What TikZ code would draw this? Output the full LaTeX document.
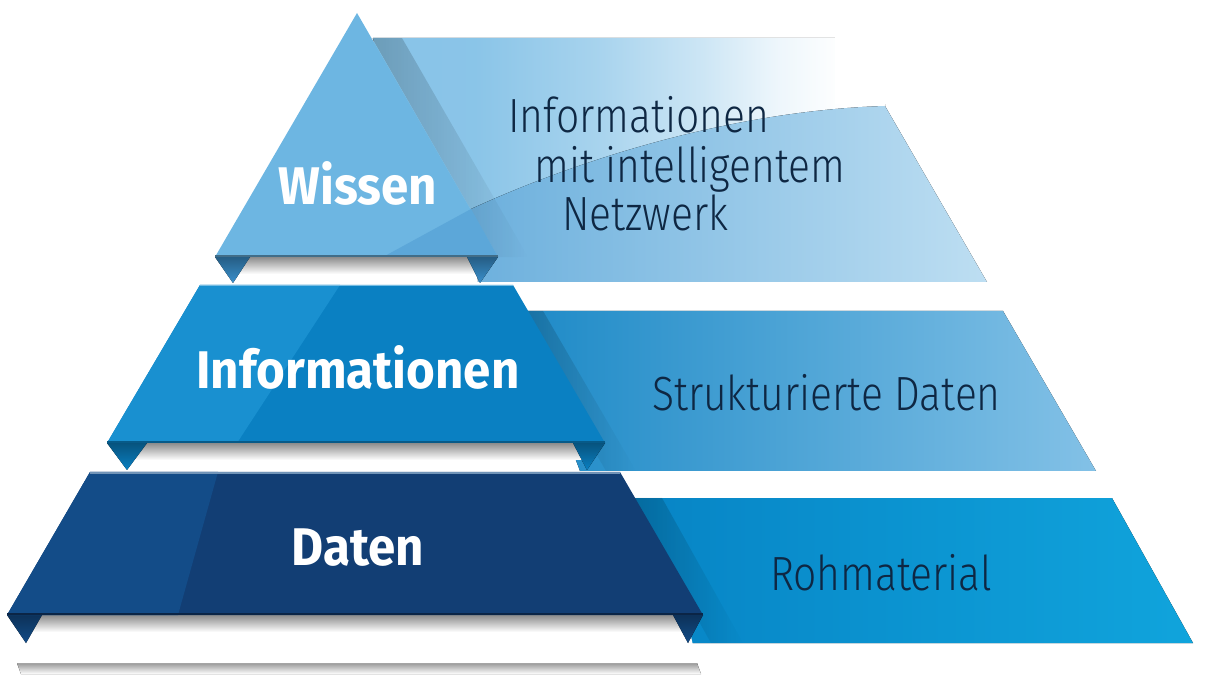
\documentclass[tikz,border=0pt]{standalone}
\usepackage{fontspec}
\newfontfamily\lightfont[FakeStretch=0.85]{Fira Sans Light}
\newfontfamily\boldfont[FakeStretch=0.93]{Fira Sans}
\usetikzlibrary{positioning,fadings}
\definecolor{txtnavy}{HTML}{0E2743}
\definecolor{wissmain}{HTML}{6DB6E2}
\definecolor{wissfacet}{HTML}{5CA7D9}
\definecolor{wissflap}{HTML}{3A90CC}
\definecolor{infomain}{HTML}{0A80C2}
\definecolor{infoleft}{HTML}{1990D0}
\definecolor{datmain}{HTML}{123E74}
\definecolor{datleft}{HTML}{134C88}
\definecolor{rohleft}{HTML}{0784C5}
\definecolor{rohright}{HTML}{10A4DC}
\pgfdeclarehorizontalshading{topfade}{100bp}{color(0bp)=(wissmain!85!white);
  color(35bp)=(wissmain!80!white); color(47bp)=(wissmain!60!white);
  color(57bp)=(wissmain!35!white); color(64.5bp)=(wissmain!12!white);
  color(71bp)=(white); color(100bp)=(white)}

\begin{document}
\begin{tikzpicture}[x=1pt, y=-1pt, node distance = 0pt,
                    band/.style = {font=\boldfont\bfseries\fontsize{53}{53}\selectfont, text=white},
                    desc/.style = {font=\lightfont\fontsize{48}{48}\selectfont, text=txtnavy,
                                   anchor=base west, inner sep=0pt},
                    flap/.style = {top color=#1!65!black, bottom color=#1},
                    drop/.style = {top color=black!45, bottom color=white},
                    cast/.style = {fill=black, fill opacity=0.2, path fading=east}]
\useasboundingbox (0,0) rectangle (1208,700);
% panels behind the pyramid
\fill[shading=topfade]
    (373,38) -- (885,38) -- (885,106) -- (471,209) -- (420,257) -- cycle;
\fill[white] (835,35) rectangle (890,104);
\fill[left color=wissfacet!90!white, right color=wissmain!45!white]
    (471,209) .. controls (600,150) and (750,110) .. (885,106) -- (987,282) -- (478,282) -- cycle;
\fill[left color=infomain!92!white, right color=wissmain!85!white]
    (520,311) -- (1003,311) -- (1096,471) -- (580,471) -- cycle;
\fill[left color=rohleft, right color=rohright]
    (630,498) -- (1112,498) -- (1193,643) -- (690,643) -- cycle;
% shadows thrown on the panels
\fill[cast] (372,38) -- (402,38) -- (528,257) -- (498,257) -- cycle;
\fill[cast] (513,311) -- (543,311) -- (636,471) -- (606,471) -- cycle;
\fill[cast] (630,498) -- (662,498) -- (743,643) -- (711,643) -- cycle;
% white undersides
\fill[drop] (233,257) rectangle (480,274);
\fill[drop] (127,443) rectangle (588,460);
\fill[drop] (26,615) rectangle (690,632);
\fill[top color=black!40, bottom color=white] (17,663) -- (697,663) -- (701,674) -- (21,674) -- cycle;
\fill[white] (26,632) -- (690,632) -- (697,663) -- (17,663) -- cycle;
% folded flaps
\fill[flap=wissflap] (215,257) -- (250,257) -- (233,283) -- cycle;
\fill[flap=wissflap] (467,257) -- (498,257) -- (480,283) -- cycle;
\fill[flap=infomain] (107,443) -- (147,443) -- (127,470) -- cycle;
\fill[flap=infomain] (573,443) -- (605,443) -- (587,470) -- cycle;
\fill[flap=datleft] (7,615) -- (42,615) -- (26,643) -- cycle;
\fill[flap=datleft] (673,615) -- (703,615) -- (688,643) -- cycle;
% the three bands
\fill[wissmain] (357,13) -- (498,257) -- (215,257) -- cycle;
\fill[wissfacet] (383,257) -- (471,209) -- (498,257) -- cycle;
\fill[infomain] (200,285) -- (513,285) -- (605,443) -- (107,443) -- cycle;
\fill[infoleft] (200,285) -- (340,285) -- (237,443) -- (107,443) -- cycle;
\fill[datmain] (90,472) -- (620,472) -- (703,615) -- (7,615) -- cycle;
\fill[datleft] (90,472) -- (218,472) -- (178,615) -- (7,615) -- cycle;
\draw[datleft!60!white, line width=1.5pt] (90,473) -- (620,473);
\draw[infoleft!60!white, line width=1pt] (200,285.5) -- (513,285.5);
\draw[datmain!60!black, line width=2pt] (7,614) -- (703,614);
\draw[infomain!70!black, line width=1.5pt] (107,442) -- (605,442);
\draw[wissmain!60!black, line width=1.5pt] (215,256) -- (498,256);

\begin{scope}
\node[band] (wissen) at (358,183) {Wissen};
\node[band] (info) at (358,367) {Informationen};
\node[band] (daten) at (358,548) {Daten};
\node[desc] (wtxt1) at (508,133) {Informationen};
\node[desc, below right=50pt and 26pt of wtxt1.base west, anchor=base west] (wtxt2) {mit intelligentem};
\node[desc, below right=48pt and 28pt of wtxt2.base west, anchor=base west] (wtxt3) {Netzwerk};
\node[desc] (itxt) at (652,411) {Strukturierte Daten};
\node[desc] (dtxt) at (770,590) {Rohmaterial};
\end{scope}
\end{tikzpicture}
\end{document}
